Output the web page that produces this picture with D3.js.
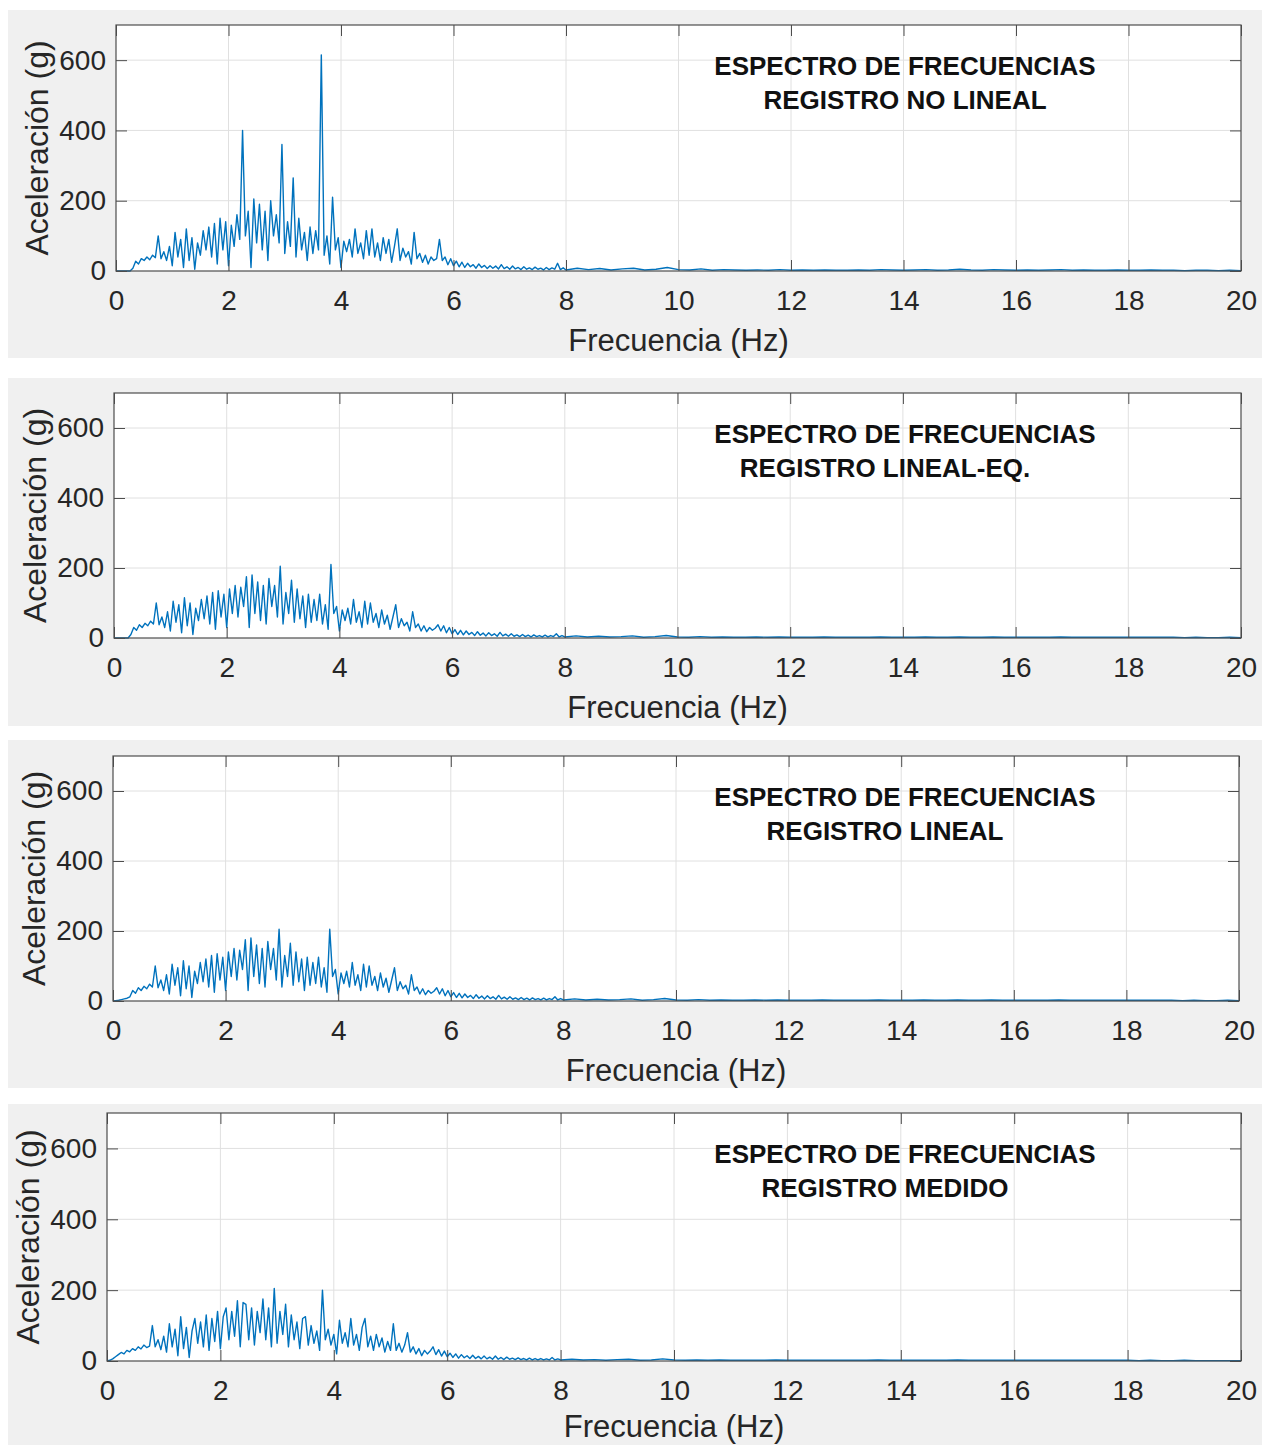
<!DOCTYPE html>
<html>
<head>
<meta charset="utf-8">
<script src="https://cdn.jsdelivr.net/npm/d3@7"></script>
<style>
  body { margin: 0; background: #fff; }
  text { font-family: "Liberation Sans", Arial, sans-serif; }
</style>
</head>
<body>
<svg id="chart" width="1262" height="1445"></svg>
<script>
// spectrum amplitudes (g)
// low band: 0 .. 8 Hz, one value every freqStep
const freqStep = 0.05;
// tail: 8.2 .. 20 Hz, one value every tailStep
const tailStart = 8.2;
const tailStep = 0.2;

const xTicks = [0, 2, 4, 6, 8, 10, 12, 14, 16, 18, 20];
const yTicks = [0, 200, 400, 600];

const titleTop = 'ESPECTRO DE FRECUENCIAS';
const titles = ['REGISTRO NO LINEAL', 'REGISTRO LINEAL-EQ.', 'REGISTRO LINEAL', 'REGISTRO MEDIDO'];

const noLineal = [
    0, 0, 0, 0, 0, 0, 8, 28, 20, 35, 30, 40, 32, 45, 38, 100, 35, 55, 30, 70,
    15, 110, 40, 90, 10, 120, 30, 95, 5, 80, 45, 115, 60, 125, 40, 135, 20, 150, 60, 140,
    15, 130, 70, 160, 90, 400, 100, 170, 10, 205, 80, 190, 60, 170, 30, 200, 100, 160, 80, 360,
    50, 140, 70, 265, 40, 150, 60, 110, 30, 125, 50, 115, 60, 615, 45, 100, 20, 210, 60, 95,
    10, 85, 55, 90, 40, 120, 50, 80, 35, 115, 45, 120, 40, 80, 30, 95, 50, 90, 25, 70,
    120, 30, 65, 40, 55, 20, 110, 35, 50, 25, 45, 20, 40, 30, 35, 90, 30, 40, 18, 35,
    15, 28, 12, 25, 10, 22, 12, 18, 8, 20, 10, 16, 7, 15, 8, 14, 6, 18, 7, 12,
    5, 14, 6, 10, 4, 12, 5, 9, 4, 11, 5, 8, 3, 10, 4, 9, 5, 22, 4, 9,
    3
];
const noLinealTail = [
    8, 4, 7, 3, 6, 8, 3, 5, 10, 4, 3, 6, 2, 4, 3, 2, 3, 2, 4, 2,
    3, 2, 3, 2, 2, 3, 2, 4, 3, 2, 3, 4, 2, 3, 5, 3, 2, 4, 3, 2,
    3, 2, 3, 4, 2, 3, 2, 2, 3, 2, 2, 3, 2, 2, 1, 2, 2, 1, 2, 1
];

const linealEq = [
    0, 0, 0, 0, 0, 0, 10, 30, 22, 38, 30, 42, 35, 48, 40, 100, 38, 60, 30, 75,
    20, 105, 45, 95, 15, 115, 35, 100, 10, 85, 50, 110, 55, 120, 40, 130, 25, 135, 60, 125,
    30, 140, 70, 150, 60, 145, 90, 175, 30, 180, 70, 160, 50, 150, 40, 170, 90, 150, 60, 205,
    40, 130, 70, 165, 45, 140, 55, 120, 30, 125, 45, 110, 50, 125, 40, 95, 25, 210, 70, 90,
    20, 80, 50, 85, 40, 110, 45, 75, 30, 105, 40, 100, 45, 70, 30, 80, 40, 65, 25, 60,
    95, 30, 55, 35, 45, 20, 75, 30, 40, 20, 35, 18, 30, 22, 28, 38, 20, 35, 15, 30,
    12, 24, 10, 22, 9, 20, 10, 16, 7, 18, 8, 14, 6, 15, 7, 12, 5, 16, 6, 11,
    5, 12, 5, 9, 4, 10, 4, 8, 3, 9, 4, 7, 3, 8, 3, 7, 4, 12, 3, 7,
    3
];
const linealEqTail = [
    6, 3, 5, 3, 4, 6, 2, 4, 7, 3, 2, 4, 2, 3, 2, 2, 3, 2, 3, 2,
    2, 2, 3, 2, 2, 2, 2, 3, 2, 2, 2, 3, 2, 2, 3, 2, 2, 3, 2, 2,
    2, 2, 2, 3, 2, 2, 2, 2, 2, 2, 2, 2, 2, 2, 1, 2, 1, 1, 2, 1
];

const lineal = [
    0, 1, 2, 4, 6, 8, 12, 30, 22, 38, 30, 42, 35, 48, 40, 100, 38, 60, 30, 75,
    20, 105, 45, 95, 15, 115, 35, 100, 10, 85, 50, 110, 55, 120, 40, 130, 25, 135, 60, 125,
    30, 140, 70, 150, 60, 145, 90, 175, 30, 180, 70, 160, 50, 150, 40, 170, 90, 150, 60, 205,
    40, 130, 70, 165, 45, 140, 55, 120, 30, 125, 45, 110, 50, 125, 40, 95, 25, 205, 70, 90,
    20, 80, 50, 85, 40, 110, 45, 75, 30, 105, 40, 100, 45, 70, 30, 80, 40, 65, 25, 60,
    95, 30, 55, 35, 45, 20, 75, 30, 40, 20, 35, 18, 30, 22, 28, 38, 20, 35, 15, 30,
    12, 24, 10, 22, 9, 20, 10, 16, 7, 18, 8, 14, 6, 15, 7, 12, 5, 16, 6, 11,
    5, 12, 5, 9, 4, 10, 4, 8, 3, 9, 4, 7, 3, 8, 3, 7, 4, 12, 3, 7,
    3
];
const linealTail = [
    6, 3, 5, 3, 4, 6, 2, 4, 7, 3, 2, 4, 2, 3, 2, 2, 3, 2, 3, 2,
    2, 2, 3, 2, 2, 2, 2, 3, 2, 2, 2, 3, 2, 2, 3, 2, 2, 3, 2, 2,
    2, 2, 2, 3, 2, 2, 2, 2, 2, 2, 2, 2, 2, 2, 1, 2, 1, 1, 2, 1
];

const medido = [
    0, 2, 6, 12, 18, 24, 20, 30, 26, 35, 30, 40, 34, 45, 38, 42, 100, 40, 60, 32,
    70, 25, 105, 40, 90, 15, 125, 35, 95, 10, 85, 120, 50, 110, 40, 130, 30, 120, 55, 140,
    35, 125, 150, 60, 140, 70, 170, 40, 165, 160, 60, 150, 45, 140, 80, 175, 60, 150, 40, 205,
    50, 140, 75, 160, 40, 130, 60, 110, 35, 120, 125, 45, 100, 50, 85, 30, 200, 60, 90, 45,
    75, 20, 115, 50, 80, 40, 120, 45, 75, 30, 95, 120, 40, 70, 30, 75, 40, 65, 25, 55,
    30, 105, 30, 50, 25, 45, 80, 25, 40, 20, 35, 15, 30, 20, 28, 40, 18, 32, 14, 28,
    12, 22, 10, 20, 8, 18, 9, 15, 7, 16, 7, 13, 6, 14, 6, 11, 5, 14, 5, 10,
    4, 11, 5, 8, 4, 9, 4, 7, 3, 8, 3, 7, 3, 7, 3, 6, 3, 10, 3, 6,
    3
];
const medidoTail = [
    5, 3, 4, 2, 4, 5, 2, 3, 6, 3, 2, 3, 2, 3, 2, 2, 2, 2, 3, 2,
    2, 2, 2, 2, 2, 2, 2, 3, 2, 2, 2, 2, 2, 2, 3, 2, 2, 2, 2, 2,
    2, 2, 2, 2, 2, 2, 2, 2, 2, 2, 1, 2, 1, 1, 2, 1, 1, 1, 1, 1
];

const series = [
    [noLineal, noLinealTail],
    [linealEq, linealEqTail],
    [lineal, linealTail],
    [medido, medidoTail],
];

// panel layout (figure backgrounds and axes boxes)
const panels = [
    {bg: [8, 10, 1262, 358],    box: [116, 25, 1241, 271],    xlab: 80},
    {bg: [8, 378, 1262, 726],   box: [114, 393, 1241, 638],   xlab: 80},
    {bg: [8, 740, 1262, 1088],  box: [113, 756, 1239, 1001],  xlab: 80},
    {bg: [8, 1104, 1262, 1445], box: [107, 1113, 1241, 1361], xlab: 76},
];

const svg = d3.select('#chart');
const tickLen = 11;
const axisColor = '#4d4d4d';
const textColor = '#262626';

function toPoints(low, tail) {
    const pts = low.map((v, i) => [i * freqStep, v]);
    tail.forEach((v, i) => pts.push([tailStart + i * tailStep, v]));
    return pts;
}

panels.forEach((p, k) => {
    const [l, t, r, b] = p.box;
    const g = svg.append('g');

    g.append('rect')
        .attr('x', p.bg[0]).attr('y', p.bg[1])
        .attr('width', p.bg[2] - p.bg[0]).attr('height', p.bg[3] - p.bg[1])
        .attr('fill', '#f0f0f0');

    g.append('rect')
        .attr('x', l).attr('y', t)
        .attr('width', r - l).attr('height', b - t)
        .attr('fill', '#fff');

    const x = d3.scaleLinear().domain([0, 20]).range([l, r]);
    const y = d3.scaleLinear().domain([0, 700]).range([b, t]);

    // grid
    g.append('g').selectAll('line').data(xTicks.slice(1, -1)).join('line')
        .attr('x1', d => x(d)).attr('x2', d => x(d))
        .attr('y1', t).attr('y2', b)
        .attr('stroke', '#e0e0e0').attr('stroke-width', 1);
    g.append('g').selectAll('line').data(yTicks.slice(1)).join('line')
        .attr('x1', l).attr('x2', r)
        .attr('y1', d => y(d)).attr('y2', d => y(d))
        .attr('stroke', '#e0e0e0').attr('stroke-width', 1);

    // spectrum
    const pts = toPoints(series[k][0], series[k][1]);
    g.append('path')
        .datum(pts)
        .attr('fill', 'none')
        .attr('stroke', '#0072bd')
        .attr('stroke-width', 1.4)
        .attr('stroke-linejoin', 'round')
        .attr('d', d3.line().x(d => x(d[0])).y(d => y(d[1])));

    // axes
    const styleAxis = sel => {
        sel.select('.domain').remove();
        sel.selectAll('line').attr('stroke', axisColor);
        sel.selectAll('text')
            .attr('fill', textColor)
            .style('font-size', '28px')
            .style('font-family', '"Liberation Sans", Arial, sans-serif');
    };

    g.append('g').attr('transform', `translate(0,${b})`)
        .call(d3.axisBottom(x).tickValues(xTicks).tickSize(-tickLen).tickPadding(19))
        .call(styleAxis);
    g.append('g').attr('transform', `translate(0,${t})`)
        .call(d3.axisTop(x).tickValues(xTicks).tickSize(-tickLen).tickFormat(''))
        .call(styleAxis);
    g.append('g').attr('transform', `translate(${l},0)`)
        .call(d3.axisLeft(y).tickValues(yTicks).tickSize(-tickLen).tickPadding(10))
        .call(styleAxis);
    g.append('g').attr('transform', `translate(${r},0)`)
        .call(d3.axisRight(y).tickValues(yTicks).tickSize(-tickLen).tickFormat(''))
        .call(styleAxis);

    g.append('rect')
        .attr('x', l).attr('y', t)
        .attr('width', r - l).attr('height', b - t)
        .attr('fill', 'none')
        .attr('stroke', axisColor).attr('stroke-width', 1.2);

    // axis labels
    g.append('text')
        .attr('x', (l + r) / 2).attr('y', b + p.xlab)
        .attr('text-anchor', 'middle')
        .attr('fill', textColor)
        .style('font-size', '31px')
        .text('Frecuencia (Hz)');

    g.append('text')
        .attr('transform', `translate(${l - 68},${(t + b) / 2}) rotate(-90)`)
        .attr('text-anchor', 'middle')
        .attr('fill', textColor)
        .style('font-size', '32px')
        .text('Aceleración (g)');

    // title inside plot
    g.append('text')
        .attr('x', 905).attr('y', t + 50)
        .attr('text-anchor', 'middle')
        .attr('font-weight', 'bold')
        .attr('fill', '#111')
        .style('font-size', '26px')
        .text(titleTop);
    g.append('text')
        .attr('x', k === 0 ? 905 : 885).attr('y', t + 84)
        .attr('text-anchor', 'middle')
        .attr('font-weight', 'bold')
        .attr('fill', '#111')
        .style('font-size', '26px')
        .text(titles[k]);
});
</script>
</body>
</html>
